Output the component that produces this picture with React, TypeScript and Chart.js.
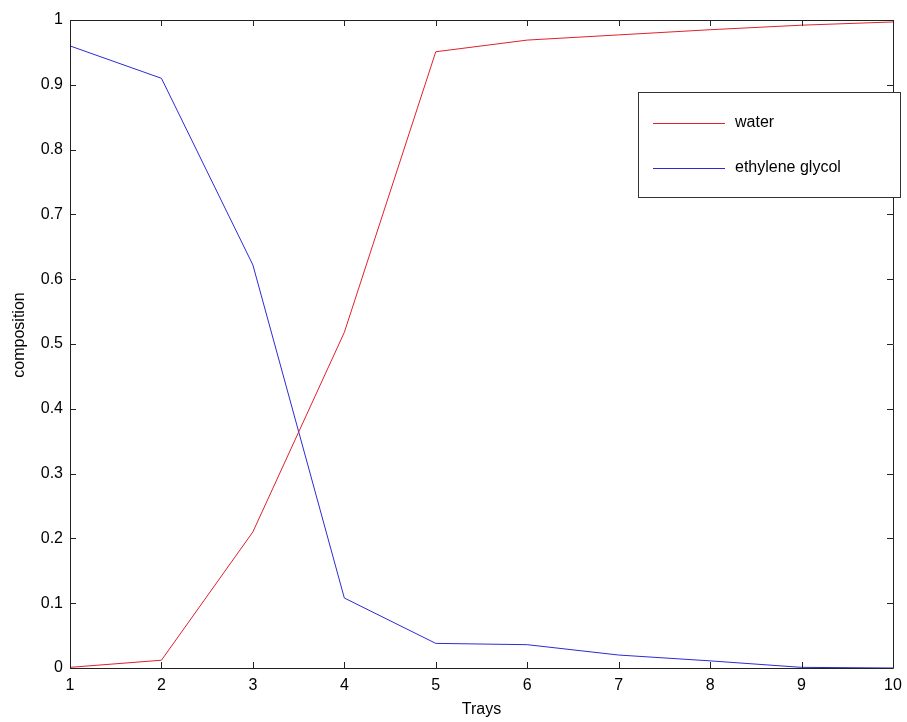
import React, { useEffect, useRef } from "react";
import { Chart, registerables } from "chart.js";
Chart.register(...registerables);

const trays = [1, 2, 3, 4, 5, 6, 7, 8, 9, 10];
const water = [0.001, 0.012, 0.21, 0.518, 0.951, 0.969, 0.977, 0.985, 0.992, 0.997];
const glycol = [0.96, 0.91, 0.622, 0.108, 0.038, 0.036, 0.02, 0.011, 0.001, 0.0];
const seriesLabels = ["water", "ethylene glycol"];
const seriesColors = ["#e0202a", "#2b2bd6"];
const xTicks = [1, 2, 3, 4, 5, 6, 7, 8, 9, 10];
const yTicks = [0, 0.1, 0.2, 0.3, 0.4, 0.5, 0.6, 0.7, 0.8, 0.9, 1];
const xTitle = "Trays";
const yTitle = "composition";

const FONT = "'Liberation Sans', Arial, sans-serif";

const boxPlugin = {
  id: "boxTicks",
  afterDraw(chart: any) {
    const { ctx, chartArea: a, scales } = chart;
    ctx.save();
    ctx.strokeStyle = "#222";
    ctx.lineWidth = 1;
    ctx.beginPath();
    ctx.rect(Math.round(a.left) + 0.5, Math.round(a.top) + 0.5, Math.round(a.right - a.left), Math.round(a.bottom - a.top));
    ctx.stroke();
    const L = 6;
    ctx.beginPath();
    for (const v of xTicks) {
      const x = Math.round(scales.x.getPixelForValue(v)) + 0.5;
      ctx.moveTo(x, a.bottom);
      ctx.lineTo(x, a.bottom - L);
      ctx.moveTo(x, a.top);
      ctx.lineTo(x, a.top + L);
    }
    for (const v of yTicks) {
      const y = Math.round(scales.y.getPixelForValue(v)) + 0.5;
      ctx.moveTo(a.left, y);
      ctx.lineTo(a.left + L, y);
      ctx.moveTo(a.right, y);
      ctx.lineTo(a.right - L, y);
    }
    ctx.stroke();

    // y axis title
    ctx.save();
    ctx.fillStyle = "#000";
    ctx.font = `16px ${FONT}`;
    ctx.textAlign = "center";
    ctx.textBaseline = "middle";
    ctx.translate(20, 335);
    ctx.rotate(-Math.PI / 2);
    ctx.fillText(yTitle, 0, 0);
    ctx.restore();

    // legend box
    const bx = 638.5, by = 92.5, bw = 262, bh = 105;
    ctx.fillStyle = "#fff";
    ctx.fillRect(bx, by, bw, bh);
    ctx.strokeStyle = "#333";
    ctx.strokeRect(bx, by, bw, bh);
    ctx.font = `16px ${FONT}`;
    ctx.textBaseline = "middle";
    ctx.textAlign = "left";
    const rows = [123, 168];
    seriesLabels.forEach((lab, i) => {
      ctx.strokeStyle = seriesColors[i];
      ctx.beginPath();
      ctx.moveTo(653, rows[i] + 0.5);
      ctx.lineTo(725, rows[i] + 0.5);
      ctx.stroke();
      ctx.fillStyle = "#000";
      ctx.fillText(lab, 735, rows[i]);
    });
    ctx.restore();
  },
};

export default function App() {
  const ref = useRef<HTMLCanvasElement>(null);
  useEffect(() => {
    const mk = (arr: number[]) => trays.map((t, i) => ({ x: t, y: arr[i] }));
    const chart = new Chart(ref.current!, {
      type: "line",
      data: {
        datasets: [
          { label: seriesLabels[0], data: mk(water), borderColor: seriesColors[0], borderWidth: 1, pointRadius: 0, fill: false, tension: 0 },
          { label: seriesLabels[1], data: mk(glycol), borderColor: seriesColors[1], borderWidth: 1, pointRadius: 0, fill: false, tension: 0 },
        ],
      },
      options: {
        animation: false,
        responsive: false,
        maintainAspectRatio: false,
        layout: { padding: { top: 20, right: 14, left: 0, bottom: 0 } },
        plugins: { legend: { display: false }, tooltip: { enabled: false } },
        scales: {
          x: {
            type: "linear",
            min: 1,
            max: 10,
            afterBuildTicks: (s: any) => { s.ticks = xTicks.map((v) => ({ value: v })); },
            afterFit: (s: any) => { s.height = 54; s.paddingLeft = 0; s.paddingRight = 0; },
            grid: { display: false, drawTicks: false },
            border: { display: false },
            ticks: { color: "#000", padding: 8, maxRotation: 0, autoSkip: false, font: { family: FONT, size: 16 }, callback: (v: any) => String(v) },
            title: { display: true, text: xTitle, color: "#000", font: { family: FONT, size: 16 }, padding: { top: 0, bottom: 3 } },
          },
          y: {
            type: "linear",
            min: 0,
            max: 1,
            afterBuildTicks: (s: any) => { s.ticks = yTicks.map((v) => ({ value: v })); },
            afterFit: (s: any) => { s.width = 70; s.paddingTop = 0; s.paddingBottom = 0; },
            grid: { display: false, drawTicks: false },
            border: { display: false },
            ticks: { color: "#000", padding: 7, autoSkip: false, font: { family: FONT, size: 16 }, callback: (v: any) => String(Math.round(v * 10) / 10) },
          },
        },
      },
      plugins: [boxPlugin],
    });
    return () => chart.destroy();
  }, []);
  return (
    <div style={{ position: "absolute", left: 0, top: 0, width: 907, height: 722, background: "#fff" }}>
      <canvas ref={ref} width={907} height={722} style={{ display: "block" }} />
    </div>
  );
}
